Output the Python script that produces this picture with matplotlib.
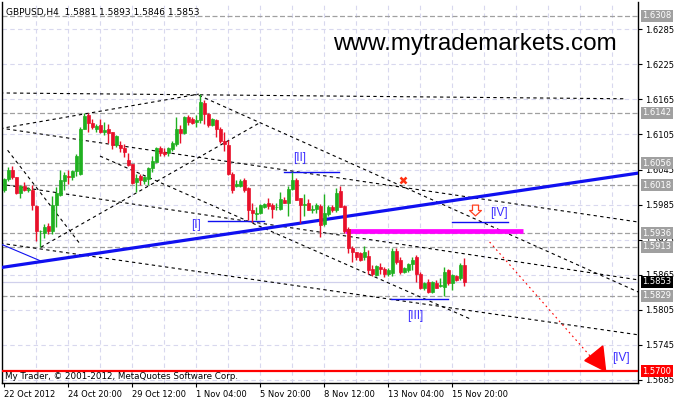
import matplotlib
matplotlib.use('Agg')
import matplotlib.pyplot as plt
import matplotlib.transforms as mtrans
from matplotlib.patches import Polygon
from matplotlib.path import Path

# GBPUSD H4 candles, bar 0 = 22 Oct 2012
opens = [1.6010, 1.6028, 1.6044, 1.6032, 1.6004, 1.6017, 1.6010, 1.6010, 1.5983, 1.5939,
         1.5937, 1.5948, 1.5939, 1.5984, 1.6001, 1.6026, 1.6034, 1.6032, 1.6042, 1.6038,
         1.6115, 1.6138, 1.6124, 1.6115, 1.6121, 1.6110, 1.6114, 1.6109, 1.6087, 1.6087,
         1.6081, 1.6062, 1.6054, 1.6024, 1.6034, 1.6026, 1.6028, 1.6047, 1.6058, 1.6081,
         1.6075, 1.6073, 1.6080, 1.6089, 1.6114, 1.6108, 1.6134, 1.6131, 1.6127, 1.6129,
         1.6159, 1.6140, 1.6121, 1.6130, 1.6115, 1.6094, 1.6087, 1.6037, 1.6017, 1.6017,
         1.6027, 1.6013, 1.5975, 1.5969, 1.5971, 1.5981, 1.5987, 1.5984, 1.5980, 1.5978,
         1.5993, 1.5987, 1.6012, 1.6027, 1.5996, 1.5984, 1.5987, 1.5976, 1.5977, 1.5983,
         1.5952, 1.5969, 1.5980, 1.5975, 1.6009, 1.5983, 1.5944, 1.5910, 1.5903, 1.5902,
         1.5895, 1.5897, 1.5874, 1.5864, 1.5879, 1.5875, 1.5866, 1.5868, 1.5906, 1.5891,
         1.5870, 1.5873, 1.5883, 1.5895, 1.5867, 1.5842, 1.5853, 1.5836, 1.5851, 1.5846,
         1.5844, 1.5873, 1.5850, 1.5863, 1.5859, 1.5881]
highs = [1.6030, 1.6049, 1.6051, 1.6033, 1.6018, 1.6024, 1.6015, 1.6018, 1.5984, 1.5941,
         1.5952, 1.5953, 1.5999, 1.6015, 1.6045, 1.6040, 1.6044, 1.6045, 1.6071, 1.6117,
         1.6141, 1.6141, 1.6131, 1.6123, 1.6131, 1.6127, 1.6123, 1.6109, 1.6104, 1.6093,
         1.6089, 1.6073, 1.6054, 1.6037, 1.6037, 1.6034, 1.6050, 1.6068, 1.6084, 1.6085,
         1.6081, 1.6084, 1.6093, 1.6134, 1.6121, 1.6137, 1.6138, 1.6135, 1.6138, 1.6174,
         1.6164, 1.6142, 1.6133, 1.6131, 1.6117, 1.6110, 1.6095, 1.6041, 1.6027, 1.6028,
         1.6030, 1.6015, 1.5987, 1.5981, 1.5986, 1.5988, 1.5996, 1.5988, 1.5987, 1.6007,
         1.5998, 1.6016, 1.6041, 1.6030, 1.5997, 1.6003, 1.5994, 1.5984, 1.5987, 1.5986,
         1.6003, 1.5984, 1.5984, 1.6013, 1.6016, 1.5984, 1.5947, 1.5914, 1.5904, 1.5904,
         1.5914, 1.5907, 1.5882, 1.5882, 1.5885, 1.5878, 1.5876, 1.5910, 1.5910, 1.5895,
         1.5879, 1.5885, 1.5895, 1.5899, 1.5870, 1.5853, 1.5857, 1.5855, 1.5856, 1.5859,
         1.5878, 1.5874, 1.5867, 1.5865, 1.5885, 1.5893]
lows = [1.6007, 1.6026, 1.6028, 1.6003, 1.5997, 1.6008, 1.6007, 1.5976, 1.5923, 1.5913,
        1.5927, 1.5935, 1.5935, 1.5947, 1.5999, 1.6010, 1.6021, 1.6027, 1.6034, 1.6036,
        1.6114, 1.6110, 1.6114, 1.6110, 1.6107, 1.6104, 1.6090, 1.6080, 1.6084, 1.6075,
        1.6067, 1.6051, 1.6020, 1.6007, 1.6018, 1.6021, 1.6018, 1.6041, 1.6057, 1.6068,
        1.6068, 1.6068, 1.6077, 1.6085, 1.6091, 1.6106, 1.6121, 1.6123, 1.6118, 1.6125,
        1.6123, 1.6118, 1.6119, 1.6100, 1.6090, 1.6077, 1.6036, 1.6005, 1.6015, 1.6015,
        1.6007, 1.5959, 1.5956, 1.5959, 1.5969, 1.5979, 1.5977, 1.5962, 1.5975, 1.5976,
        1.5987, 1.5965, 1.6010, 1.5992, 1.5953, 1.5965, 1.5975, 1.5970, 1.5971, 1.5929,
        1.5948, 1.5965, 1.5973, 1.5973, 1.5980, 1.5937, 1.5902, 1.5886, 1.5891, 1.5889,
        1.5891, 1.5867, 1.5863, 1.5863, 1.5867, 1.5861, 1.5863, 1.5862, 1.5883, 1.5867,
        1.5868, 1.5870, 1.5873, 1.5853, 1.5840, 1.5838, 1.5834, 1.5834, 1.5842, 1.5844,
        1.5829, 1.5847, 1.5839, 1.5855, 1.5856, 1.5846]
closes = [1.6028, 1.6045, 1.6032, 1.6004, 1.6016, 1.6010, 1.6012, 1.5984, 1.5939, 1.5940,
          1.5946, 1.5939, 1.5984, 1.6004, 1.6027, 1.6036, 1.6032, 1.6042, 1.6068, 1.6115,
          1.6137, 1.6124, 1.6117, 1.6119, 1.6110, 1.6113, 1.6108, 1.6087, 1.6102, 1.6081,
          1.6075, 1.6053, 1.6022, 1.6030, 1.6027, 1.6032, 1.6047, 1.6060, 1.6081, 1.6074,
          1.6071, 1.6081, 1.6090, 1.6114, 1.6107, 1.6134, 1.6127, 1.6125, 1.6130, 1.6161,
          1.6140, 1.6121, 1.6131, 1.6114, 1.6093, 1.6089, 1.6037, 1.6010, 1.6021, 1.6026,
          1.6010, 1.5975, 1.5971, 1.5970, 1.5984, 1.5986, 1.5983, 1.5977, 1.5981, 1.5994,
          1.5988, 1.6012, 1.6027, 1.5993, 1.5984, 1.5986, 1.5975, 1.5978, 1.5984, 1.5950,
          1.5970, 1.5980, 1.5975, 1.6005, 1.5981, 1.5939, 1.5910, 1.5904, 1.5895, 1.5891,
          1.5904, 1.5873, 1.5866, 1.5880, 1.5874, 1.5866, 1.5873, 1.5906, 1.5887, 1.5870,
          1.5876, 1.5883, 1.5890, 1.5867, 1.5842, 1.5851, 1.5836, 1.5853, 1.5843, 1.5847,
          1.5870, 1.5850, 1.5865, 1.5856, 1.5882, 1.5853]

price_ticks = [1.6285, 1.6225, 1.6165, 1.6105, 1.6045, 1.5985, 1.5925, 1.5865, 1.5805, 1.5745, 1.5685]
date_pos = [0, 16, 32, 48, 64, 80, 96, 112]
date_labels = ['22 Oct 2012', '24 Oct 20:00', '29 Oct 12:00', '1 Nov 04:00',
               '5 Nov 20:00', '8 Nov 12:00', '13 Nov 04:00', '15 Nov 20:00']
levels = [1.6308, 1.6142, 1.6056, 1.6018, 1.5936, 1.5913, 1.5829]
bid = 1.5853
target = 1.5700

# trend lines (bar, price) -> (bar, price)
dash_lines = [((-1, 1.6176), (155.5, 1.6166)),
              ((-1, 1.6115), (48.7, 1.6174)),
              ((48.7, 1.6172), (158.7, 1.5835)),
              ((-1, 1.6116), (158.7, 1.5955)),
              ((-1, 1.6020), (158.7, 1.5856)),
              ((-1, 1.5919), (158.7, 1.5762)),
              ((9.2, 1.5912), (64.2, 1.6126)),
              ((24, 1.6068), (117, 1.5788)),
              ((0.9, 1.6078), (19.2, 1.5916))]
blue_main = ((-1, 1.5877), (158.7, 1.6039))
blue_thin = ((-1, 1.5918), (9.7, 1.5887))
wave_lines = [(50.9, 64.9, 1.5957), (69.9, 83.7, 1.6041), (96.7, 110.9, 1.5823), (111.9, 125.9, 1.5955)]
wave_labels = [(47.9, 1.5950, '[I]'), (73.9, 1.6065, '[II]'), (102.7, 1.5794, '[III]'),
               (123.7, 1.5971, '[IV]'), (154.2, 1.5722, '[IV]')]
magenta = (85.2, 129.7, 1.5940)
red_dots = ((121.4, 1.5921), (148.7, 1.5709))
red_head = [(145.2, 1.5718), (149.7, 1.5743), (150.4, 1.5700)]
cross_mark = (99.7, 1.6027)
down_mark = (117.7, 1.5975)

up_col = '#20B020'
dn_col = '#E8102A'

fig = plt.figure(figsize=(6.76, 4.0), dpi=100)
ax = fig.add_axes([2 / 676, 17 / 400, 636 / 676, 381 / 400])
ax.set_xlim(-0.5, 158.5)
ax.set_ylim(1.56797, 1.63316)

# grid
for gx in range(8, 159, 8):
    ax.axvline(gx, color='#D8D8EE', lw=0.8, ls=(0, (4, 3)), zorder=0)
for gy in price_ticks:
    ax.axhline(gy, color='#D8D8EE', lw=0.8, ls=(0, (4, 3)), zorder=0)

for lv in levels:
    ax.axhline(lv, color='#A0A0A0', lw=0.9, ls=(0, (4, 2)), zorder=1)
ax.axhline(bid, color='#D0D0EC', lw=0.9, zorder=1)
ax.axhline(target, color='#FF0000', lw=1.6, zorder=4)

for (x0, y0), (x1, y1) in dash_lines:
    ax.plot([x0, x1], [y0, y1], color='black', lw=0.8, ls=(0, (3, 3)), zorder=2)

ax.plot(*zip(*blue_main), color='#1010F0', lw=2.3, zorder=3, solid_capstyle='butt')
ax.plot(*zip(*blue_thin), color='#1010F0', lw=0.8, zorder=3)
for x0, x1, y in wave_lines:
    ax.plot([x0, x1], [y, y], color='#1010F0', lw=1.0, zorder=3)
for x, y, s in wave_labels:
    ax.text(x, y, s, color='#3A2BFF', fontsize=8.5, family='Liberation Sans',
            ha='center', va='center', zorder=5)

ax.plot([magenta[0], magenta[1]], [magenta[2], magenta[2]], color='#FF00FF', lw=3.4,
        solid_capstyle='butt', zorder=3)
ax.plot(*zip(*red_dots), color='#FF0000', lw=0.8, ls=(0, (1.5, 3)), zorder=3)
ax.add_patch(Polygon(red_head, closed=True, fc='#FF0000', ec='#FF0000', zorder=4))
ax.plot(*cross_mark, marker='x', color='#FF3010', ms=5, mew=1.8, zorder=4)

arrow_path = Path([(-0.28, 0.5), (0.28, 0.5), (0.28, 0.0), (0.55, 0.0), (0.0, -0.5),
                   (-0.55, 0.0), (-0.28, 0.0), (-0.28, 0.5)], closed=True)
ax.plot(*down_mark, marker=arrow_path, ms=8.5, mfc='white', mec='#FF4020', mew=0.9, zorder=5)

# candles
for i in range(len(opens)):
    o, h, l, c = opens[i], highs[i], lows[i], closes[i]
    col = up_col if c >= o else dn_col
    ax.vlines(i, l, h, color=col, lw=1.0, zorder=6)
    lo, hi = min(o, c), max(o, c)
    if hi - lo < 0.00008:
        hi = lo + 0.00008
    ax.bar(i, hi - lo, 0.75, bottom=lo, color=col, edgecolor=col, lw=0.5, zorder=7)

# axes look
ax.spines['top'].set_visible(False)
for s in ['left', 'right', 'bottom']:
    ax.spines[s].set_color('black')
    ax.spines[s].set_linewidth(1.0)
ax.yaxis.tick_right()
ax.set_yticks(price_ticks)
ax.set_yticklabels(['%.4f' % v for v in price_ticks])
ax.tick_params(axis='y', length=3, width=0.8, pad=2, labelsize=6)
ax.set_xticks(date_pos)
ax.set_xticklabels(date_labels, ha='left')
ax.tick_params(axis='x', length=3, width=0.8, pad=2, labelsize=6)

# price boxes on the scale
tr = mtrans.blended_transform_factory(ax.transAxes, ax.transData)
for lv in levels:
    ax.text(1.0 + 4 / 636, lv, '%.4f' % lv, transform=tr, fontsize=6, color='white',
            va='center', ha='left', clip_on=False, zorder=8,
            bbox=dict(boxstyle='square,pad=0.18', fc='#A0A0A0', ec='none'))
ax.text(1.0 + 4 / 636, bid, '%.4f' % bid, transform=tr, fontsize=6, color='white',
        va='center', ha='left', clip_on=False, zorder=8,
        bbox=dict(boxstyle='square,pad=0.18', fc='black', ec='none'))
ax.text(1.0 + 4 / 636, target, '%.4f' % target, transform=tr, fontsize=6, color='white',
        va='center', ha='left', clip_on=False, zorder=8,
        bbox=dict(boxstyle='square,pad=0.18', fc='#FF0000', ec='none'))

ax.text(0.006, 0.985, 'GBPUSD,H4  1.5881 1.5893 1.5846 1.5853', transform=ax.transAxes,
        fontsize=6.5, va='top', ha='left', zorder=9)
ax.text(0.004, 0.004, 'My Trader, \u00a9 2001-2012, MetaQuotes Software Corp.', transform=ax.transAxes,
        fontsize=6.3, va='bottom', ha='left', zorder=9)
fig.text(475 / 676, 1 - 44 / 400, 'www.mytrademarkets.com', fontsize=17.5,
         family='Liberation Sans', ha='center', va='center')

fig.savefig('out.png', dpi=100, facecolor='white')
